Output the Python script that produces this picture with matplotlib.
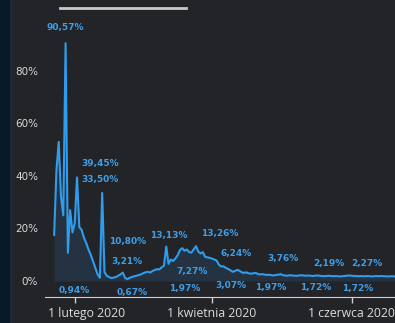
import numpy as np
import pandas as pd
import matplotlib
matplotlib.use("Agg")
import matplotlib.pyplot as plt
from matplotlib.patches import Rectangle
from matplotlib.lines import Line2D
from matplotlib.transforms import ScaledTranslation

# daily growth (%) starting 23 Jan 2020
start = "2020-01-23"
growth = [
    17.5, 42.0, 53.0, 32.0, 25.0, 90.57, 10.7, 27.0, 18.5, 22.0,
    39.45, 20.5, 19.5, 16.5, 14.5, 12.0, 10.0, 7.5, 5.0, 2.5,
    1.2, 33.5, 3.4, 2.0, 1.5, 1.1, 1.3, 1.5, 2.0, 2.5,
    3.21, 1.2, 0.67, 1.2, 1.5, 1.8, 2.0, 2.3, 2.5, 3.0,
    3.3, 3.5, 3.2, 3.8, 4.2, 4.5, 4.4, 5.2, 5.8, 13.13,
    6.5, 8.2, 7.6, 8.6, 9.8, 11.8, 12.5, 11.5, 12.0, 11.0,
    10.8, 12.0, 13.26, 11.2, 10.5, 11.0, 9.2, 9.0, 8.8, 8.5,
    8.2, 7.8, 6.24, 5.5, 5.6, 5.0, 4.6, 4.1, 3.5, 3.8,
    4.2, 3.9, 3.3, 3.07, 3.3, 2.9, 2.8, 2.9, 3.1, 2.7,
    2.5, 2.6, 2.4, 2.3, 2.4, 2.2, 2.1, 2.3, 2.4, 2.6,
    2.2, 2.1, 2.0, 2.2, 2.1, 2.0, 1.97, 2.1, 2.2, 2.1,
    2.0, 2.1, 2.0, 1.9, 2.0, 2.1, 2.0, 1.9, 1.8, 1.9,
    2.0, 1.9, 1.8, 1.9, 1.8, 1.72, 1.8, 1.9, 2.0, 2.1,
    2.0, 1.9, 1.9, 1.8, 1.9, 1.8, 1.8, 1.9, 1.8, 1.72,
    1.8, 1.9, 1.8, 1.9, 1.8, 1.8, 1.7, 1.8, 1.8, 1.7,
]
dates = pd.date_range(start, periods=len(growth), freq="D")

# annotation labels: days after 1 Feb 2020, vertical position (%), text
lab_day = [-4.2, 11.2, 11.2, 23.0, 23.0,
           -0.2, 25.2, 41.0, 51.5, 48.0,
           63.3, 70.7, 68.1, 85.6, 90.9,
           105.3, 111.0, 127.7, 123.8]
lab_y = [96.4, 44.6, 38.5, 15.2, 7.6,
         -3.8, -4.2, 17.5, 3.8, -2.7,
         17.9, 10.3, -1.9, -2.3, 8.4,
         -2.3, 6.5, 6.5, -2.7]
lab_txt = ["90,57%", "39,45%", "33,50%", "10,80%", "3,21%",
           "0,94%", "0,67%", "13,13%", "7,27%", "1,97%",
           "13,26%", "6,24%", "3,07%", "1,97%", "3,76%",
           "1,72%", "2,19%", "2,27%", "1,72%"]

bg = "#232428"
fig = plt.figure(figsize=(3.95, 3.23), dpi=100, facecolor=bg)
ax = fig.add_axes([45 / 395, 26 / 323, 1 - 45 / 395, 277 / 323])
ax.set_facecolor(bg)

ax.fill_between(dates, growth, 0, color="#2b6ea8", alpha=0.2, lw=0)
ax.plot(dates, growth, color="#2f9cec", lw=1.5)

feb1 = pd.Timestamp("2020-02-01")
for d, y, t in zip(lab_day, lab_y, lab_txt):
    ax.text(feb1 + pd.Timedelta(days=d), y, t, color="#3f9ee6", fontsize=6.5,
            fontweight="bold", ha="center", va="center")

ax.set_xlim(pd.Timestamp("2020-01-19"), pd.Timestamp("2020-06-20"))
ax.set_ylim(-6.1, 99.4)

ax.set_yticks([0, 20, 40, 60, 80])
ax.set_yticklabels(["0%", "20%", "40%", "60%", "80%"])
ax.tick_params(axis="y", length=0, pad=5, labelsize=7.5, labelcolor="#d8d8d8")

ax.set_xticks([feb1, pd.Timestamp("2020-04-01"), pd.Timestamp("2020-06-01")])
ax.set_xticklabels(["1 lutego 2020", "1 kwietnia 2020", "1 czerwca 2020"],
                   fontfamily="Open Sans")
ax.tick_params(axis="x", length=4, width=1, color="#d0d0d0", pad=3.5,
               labelsize=8.8, labelcolor="#dcdcdc")
first = ax.get_xticklabels()[0]
first.set_transform(first.get_transform() + ScaledTranslation(12 / 100, 0, fig.dpi_scale_trans))

for s in ["top", "right", "left"]:
    ax.spines[s].set_visible(False)
ax.spines["bottom"].set_color("#d0d0d0")

# left dark strip and legend stub at the top
fig.add_artist(Rectangle((0, 0), 10 / 395, 1, transform=fig.transFigure,
                         color="#08192a", lw=0))
fig.add_artist(Line2D([10.5 / 395, 10.5 / 395], [0, 1], transform=fig.transFigure,
                      color="#13304a", lw=1))
fig.add_artist(Line2D([60 / 395, 186 / 395], [1 - 8 / 323, 1 - 8 / 323],
                      transform=fig.transFigure, color="#c9c9c9", lw=2))

fig.savefig("out.png", dpi=100, facecolor=bg)
